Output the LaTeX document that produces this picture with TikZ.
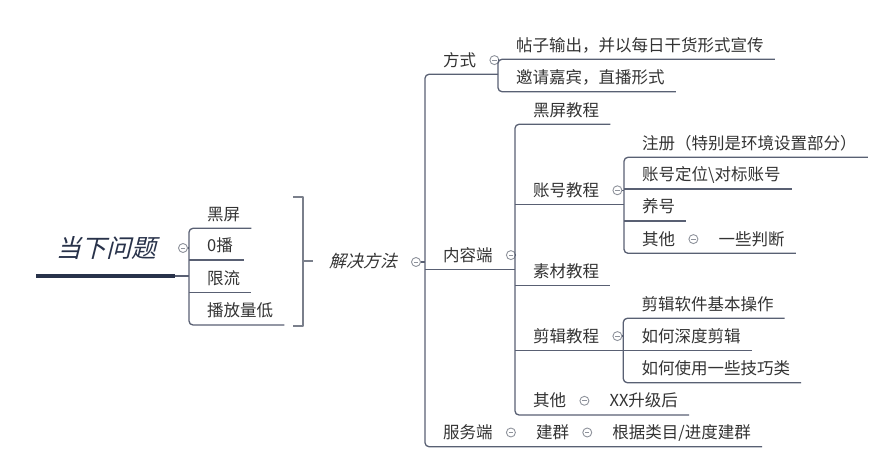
\documentclass[tikz,border=0pt]{standalone}
\usepackage{fontspec}
\newfontfamily\cjk{Noto Sans CJK SC}
\newfontfamily\cjkslant[FakeSlant=0.25]{Noto Sans CJK SC}
\usetikzlibrary{calc}

\definecolor{txt}{HTML}{333333}
\definecolor{edge}{HTML}{596073}
\definecolor{navy}{HTML}{28324A}
\definecolor{foldgray}{HTML}{8E929B}
\definecolor{brack}{HTML}{7A7F8B}

\tikzset{
  topic/.style={anchor=south west, inner xsep=11pt, inner ysep=8pt, text depth=0pt,
    text height=12pt, font=\cjk\fontsize{16.5}{18}\selectfont, text=txt,
    execute at begin node={\hspace*{7pt}}},
  branch/.style={draw=edge, line width=1.3pt, rounded corners=4pt},
  fold/.style={circle, draw=foldgray, line width=0.9pt, minimum size=9pt, inner sep=0pt,
    path picture={\draw[foldgray, line width=0.9pt]
      ([xshift=-2.2pt]path picture bounding box.center) --
      ([xshift=2.2pt]path picture bounding box.center);}},
}

\begin{document}
\begin{tikzpicture}[x=1pt, y=-1pt, line join=round]
    \useasboundingbox (0,0) rectangle (869,470);

    % central topic
    \node[font=\cjkslant\fontsize{25}{25}\selectfont, text=navy, inner sep=0pt] (root) at (106,248) {当下问题};
    \coordinate (rootL) at (36,276);
    \coordinate (rootR) at (175,276);
    \draw[navy, line width=3.5pt] (rootL) -- (rootR);
    \node[fold] (rootc) at (183,248) {};

    % problems
    \node[topic] (p1) at (189,228.3) {黑屏};
    \node[topic] (p2) at (189,260) {0播};
    \node[topic] (p3) at (189,292.7) {限流};
    \node[topic] (p4) at (189,325) {播放量低};
    \draw[branch] (p1.south east) -- (p1.south west) -- (p4.south west) -- (p4.south east);
    \draw[branch] (p2.south west) -- (p2.south east);
    \draw[branch] (p3.south west) -- (p3.south east);
    \draw[branch] (rootR) -- (rootR -| p1.south west);
    \draw[branch] (rootc.east) -- (rootc.east -| p1.south west);

    % summary bracket
    \coordinate (bt) at (293,197);
    \coordinate (bm) at (303,261);
    \draw[brack, line width=1.5pt] (bt) -- ++(10,0) -- ++(0,129) -- ++(-10,0);
    \draw[brack, line width=1.5pt] (bm) -- ++(10,0);
    \node[font=\cjkslant\fontsize{17}{17}\selectfont, text=txt, inner sep=0pt] (sol) at (363,261) {解决方法};
    \node[fold] (solc) at (416,262) {};

    % first level
    \node[topic] (fs) at (425,74.3) {方式};
    \node[fold] (fsc) at ([xshift=7pt]fs.east) {};
    \node[topic] (nr) at (425,269.3) {内容端};
    \node[fold] (nrc) at ([xshift=7pt]nr.east) {};
    \node[topic] (fw) at (425,446.7) {服务端};
    \node[fold] (fwc) at ([xshift=7pt]fw.east) {};
    \node[topic] (fj) at ($(fwc.east |- fw.south)+(2,0)$) {建群};
    \node[fold] (fjc) at ([xshift=7pt]fj.east) {};
    \node[topic] (fg) at ($(fjc.east |- fj.south)+(2,0)$) {根据类目/进度建群};

    % 方式
    \node[topic] (fa) at (498,59.3) {帖子输出，并以每日干货形式宣传};
    \node[topic] (fb) at (498,91.7) {邀请嘉宾，直播形式};
    \draw[branch] (fa.south east) -- (fa.south west) -- (fb.south west) -- (fb.south east);
    \draw[branch] (fsc.east) -- (fsc.east -| fa.south west);

    % 内容端
    \node[topic] (n1) at (515,124.3) {黑屏教程};
    \node[topic] (n2) at (515,204.5) {账号教程};
    \node[fold] (n2c) at ([xshift=7pt]n2.east) {};
    \node[topic] (n3) at (515,285.5) {素材教程};
    \node[topic] (n4) at (515,350.3) {剪辑教程};
    \node[fold] (n4c) at ([xshift=7pt]n4.east) {};
    \node[topic] (n5) at (515,415) {其他};
    \node[fold] (n5c) at ([xshift=7pt]n5.east) {};
    \node[topic] (n5a) at ($(n5c.east |- n5.south)+(2,0)$) {XX升级后};
    \draw[branch] (n1.south east) -- (n1.south west) -- (n5.south west) -- (n5a.south east);
    \draw[branch] (n3.south west) -- (n3.south east);
    \draw[branch] (nr.south west) -- (nr.south west -| n1.south west);
    \draw[branch] (nrc.east) -- (nrc.east -| n1.south west);

    % 账号教程
    \node[topic] (k1) at (624,157.3) {注册（特别是环境设置部分）};
    \node[topic] (k2) at (624,189) {账号定位\textbackslash 对标账号};
    \node[topic] (k3) at (624,221) {养号};
    \node[topic] (k4) at (624,253.3) {其他};
    \node[fold] (k4c) at ([xshift=7pt]k4.east) {};
    \node[topic] (k4a) at ($(k4c.east |- k4.south)+(2,0)$) {一些判断};
    \draw[branch] (k1.south east) -- (k1.south west) -- (k4.south west) -- (k4a.south east);
    \draw[branch] (k2.south west) -- (k2.south east);
    \draw[branch] (k3.south west) -- (k3.south east);
    \draw[branch] (n2.south west) -- (n2.south west -| k1.south west);
    \draw[branch] (n2c.east) -- (n2c.east -| k1.south west);

    % 剪辑教程
    \node[topic] (j1) at (623.3,318.3) {剪辑软件基本操作};
    \node[topic] (j2) at (623.3,350.5) {如何深度剪辑};
    \node[topic] (j3) at (623.3,382.7) {如何使用一些技巧类};
    \draw[branch] (j1.south east) -- (j1.south west) -- (j3.south west) -- (j3.south east);
    \draw[branch] (j2.south west) -- (j2.south east);
    \draw[branch] (n4.south west) -- (n4.south west -| j1.south west);
    \draw[branch] (n4c.east) -- (n4c.east -| j1.south west);

    % main trunk
    \draw[branch] (fs.south west -| fa.south west) -- (fs.south west) -- (fw.south west) -- (fg.south east);
    \draw[branch] (solc.east) -- (solc.east -| fs.south west);
\end{tikzpicture}
\end{document}
